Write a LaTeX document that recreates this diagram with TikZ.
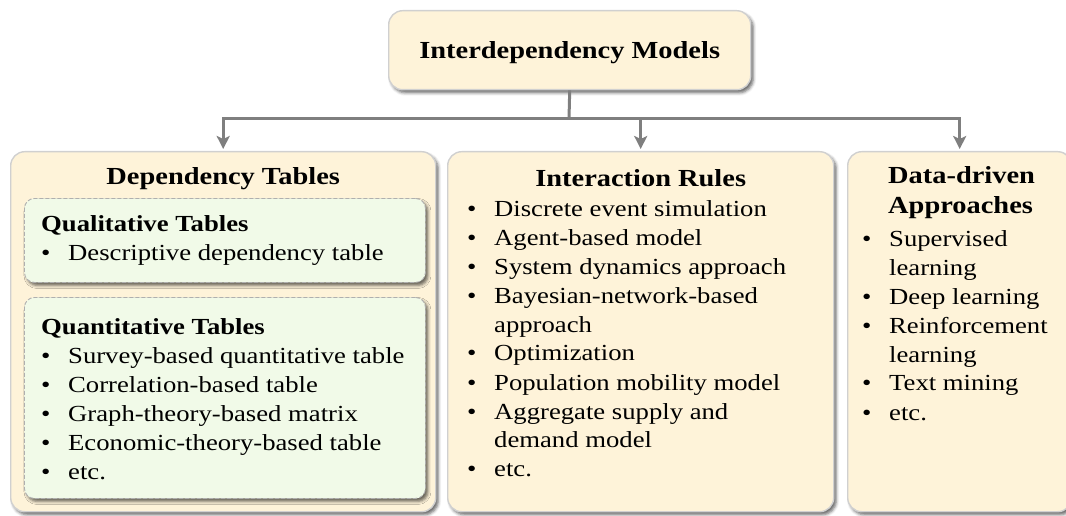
\documentclass[tikz,border=0pt]{standalone}
\usepackage{fontspec}
\setmainfont{Liberation Serif}[FakeStretch=1.16]
\usetikzlibrary{shadows.blur,arrows.meta,calc}

\definecolor{cream}{RGB}{254,243,217}
\definecolor{mint}{RGB}{241,250,232}
\definecolor{edge}{RGB}{208,208,208}
\definecolor{dashedge}{RGB}{175,175,175}
\definecolor{wire}{RGB}{127,127,127}

% a block of lines whose baseline is that of its first line
\newcommand\linesblock[1]{\begin{tabular}[t]{@{}l@{}}#1\end{tabular}}
% bullet line and continuation line of a list
\newcommand\itemline[1]{\makebox[27pt][l]{\textbullet}#1}
\newcommand\contline[1]{\hspace*{27pt}#1}

\tikzset{
  panel/.style={draw=edge, line width=1.4pt, fill=cream, rounded corners=14pt,
    anchor=north west, inner sep=0pt,
    blur shadow={shadow xshift=2.5pt, shadow yshift=-3pt, shadow blur radius=3pt, shadow opacity=60}},
  subpanel/.style={draw=dashedge, dashed, dash pattern=on 4pt off 2pt, line width=0.9pt,
    fill=mint, rounded corners=10pt, anchor=north west, inner sep=0pt,
    blur shadow={shadow xshift=2.5pt, shadow yshift=-3pt, shadow blur radius=3pt, shadow opacity=60}},
  link/.style={draw=wire, line width=3pt},
  arrowlink/.style={link, shorten >=2pt, -{Stealth[length=13pt, width=13pt, inset=3pt]}},
  headtext/.style={anchor=base, inner sep=0pt, font=\fontsize{24.5}{29}\selectfont\bfseries},
  body/.style={anchor=base west, inner sep=0pt, font=\fontsize{23}{29}\selectfont},
}

\begin{document}
\begin{tikzpicture}[x=1pt, y=-1pt]
  \useasboundingbox (0,0) rectangle (1066,516);
  \clip (0,0) rectangle (1066,516);

  % root
  \node[panel, minimum width=362pt, minimum height=79pt] (root) at (388,10) {};
  \node[headtext] (rootT) at (root.center |- 0,59) {Interdependency Models};

  % three category panels
  \node[panel, minimum width=425pt, minimum height=360pt] (dep) at (10,151) {};
  \node[panel, minimum width=386pt, minimum height=360pt] (rules) at (447,151) {};
  \node[panel, minimum width=224pt, minimum height=360pt] (data) at (847,151) {};

  % connectors
  \coordinate (hub) at (569,119);
  \draw[link] (root.south) -- (hub);
  \draw[arrowlink] (hub) -| (dep.north);
  \draw[arrowlink] (hub) -| (rules.north);
  \draw[arrowlink] (hub) -| (data.north);

  % dependency tables
  \node[headtext] (depT) at (dep.north |- 0,185) {Dependency Tables};
  \node[subpanel, minimum width=401pt, minimum height=84pt] (qual) at (24,198) {};
  \node[subpanel, minimum width=401pt, minimum height=201pt] (quant) at (24,297) {};
  \node[body] (qualT) at (41,231) {\linesblock{\textbf{Qualitative Tables}\\
    \itemline{Descriptive dependency table}}};
  \node[body] (quantT) at (41,334) {\linesblock{\textbf{Quantitative Tables}\\
    \itemline{Survey-based quantitative table}\\
    \itemline{Correlation-based table}\\
    \itemline{Graph-theory-based matrix}\\
    \itemline{Economic-theory-based table}\\
    \itemline{etc.}}};

  % interaction rules
  \node[headtext] (rulesT) at (rules.north |- 0,186) {Interaction Rules};
  \node[body] (rulesL) at (467,216) {\linesblock{\itemline{Discrete event simulation}\\
    \itemline{Agent-based model}\\
    \itemline{System dynamics approach}\\
    \itemline{Bayesian-network-based}\\
    \contline{approach}\\
    \itemline{Optimization}\\
    \itemline{Population mobility model}\\
    \itemline{Aggregate supply and}\\
    \contline{demand model}\\
    \itemline{etc.}}};

  % data-driven approaches
  \node[body, font=\fontsize{24.5}{30}\selectfont\bfseries] (dataT) at (888,184) {\linesblock{Data-driven\\Approaches}};
  \node[body] (dataL) at (862,246) {\linesblock{\itemline{Supervised}\\
    \contline{learning}\\
    \itemline{Deep learning}\\
    \itemline{Reinforcement}\\
    \contline{learning}\\
    \itemline{Text mining}\\
    \itemline{etc.}}};
\end{tikzpicture}
\end{document}
